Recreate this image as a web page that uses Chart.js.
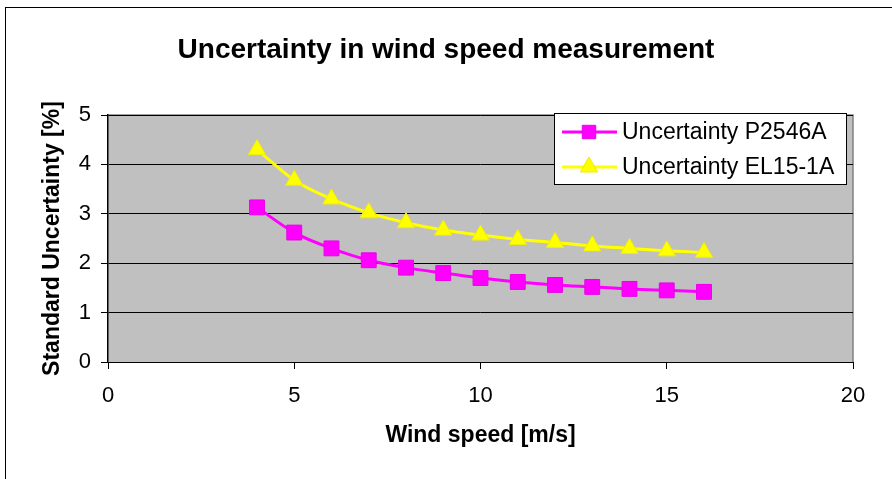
<!DOCTYPE html>
<html>
<head>
<meta charset="utf-8">
<script src="https://cdn.jsdelivr.net/npm/chart.js@4/dist/chart.umd.min.js"></script>
<style>
  html, body { margin: 0; padding: 0; background: #ffffff; }
  #wrap { position: relative; width: 892px; height: 479px; overflow: hidden; }
  #frame { position: absolute; left: 5px; top: 7px; width: 1000px; height: 1000px; border-left: 1px solid #000; border-top: 1px solid #000; box-sizing: border-box; }
  canvas { position: absolute; left: 0; top: 0; }
</style>
</head>
<body>
<div id="wrap">
  <div id="frame"></div>
  <canvas id="c" width="892" height="479"></canvas>
</div>
<script>
const windSpeed = [4, 5, 6, 7, 8, 9, 10, 11, 12, 13, 14, 15, 16];
const uncP2546A = [3.13, 2.62, 2.30, 2.06, 1.91, 1.80, 1.70, 1.62, 1.56, 1.52, 1.48, 1.45, 1.42];
const uncEL151A = [4.30, 3.68, 3.30, 3.02, 2.82, 2.67, 2.57, 2.48, 2.42, 2.35, 2.30, 2.25, 2.22];
const xTicks = [0, 5, 10, 15, 20];
const yTicks = [0, 1, 2, 3, 4, 5];
const seriesNames = ['Uncertainty P2546A', 'Uncertainty EL15-1A'];
const titleText = 'Uncertainty in wind speed measurement';
const xTitle = 'Wind speed [m/s]';
const yTitle = 'Standard Uncertainty [%]';

const FONT = "'Liberation Sans', Arial, sans-serif";

const toPts = (xs, ys) => xs.map((x, i) => ({ x: x, y: ys[i] }));

const plotBg = {
  id: 'plotBg',
  beforeDraw(chart) {
    const a = chart.chartArea, ctx = chart.ctx;
    ctx.save();
    ctx.fillStyle = '#C0C0C0';
    ctx.fillRect(a.left, a.top, a.right - a.left, a.bottom - a.top);
    ctx.strokeStyle = '#808080';
    ctx.lineWidth = 1.5;
    ctx.beginPath();
    ctx.moveTo(a.left, a.top);
    ctx.lineTo(a.right, a.top);
    ctx.lineTo(a.right, a.bottom);
    ctx.stroke();
    ctx.restore();
  }
};

const boxLegend = {
  id: 'boxLegend',
  afterDraw(chart) {
    const ctx = chart.ctx;
    const x0 = 554, y0 = 113, w = 292, h = 71;
    ctx.save();
    ctx.fillStyle = '#ffffff';
    ctx.fillRect(x0, y0, w, h);
    ctx.strokeStyle = '#000000';
    ctx.lineWidth = 1;
    ctx.strokeRect(x0 + 0.5, y0 + 0.5, w, h);
    const rows = [132, 167];
    chart.data.datasets.forEach((ds, i) => {
      const y = rows[i];
      ctx.strokeStyle = ds.borderColor;
      ctx.lineWidth = 3;
      ctx.beginPath();
      ctx.moveTo(562, y);
      ctx.lineTo(617, y);
      ctx.stroke();
      ctx.fillStyle = ds.pointBackgroundColor;
      ctx.strokeStyle = ds.pointBorderColor;
      ctx.lineWidth = 1;
      Chart.helpers.drawPoint(ctx, { pointStyle: ds.pointStyle, radius: ds.legendRadius, borderWidth: 1 }, 589, y);
      ctx.fillStyle = '#000000';
      ctx.font = '23px ' + FONT;
      ctx.textBaseline = 'middle';
      ctx.textAlign = 'left';
      ctx.fillText(ds.label, 622, y + 1);
    });
    ctx.restore();
  }
};

new Chart(document.getElementById('c'), {
  type: 'scatter',
  data: {
    datasets: [
      {
        label: seriesNames[0],
        data: toPts(windSpeed, uncP2546A),
        showLine: true,
        borderColor: '#FF00FF',
        backgroundColor: '#FF00FF',
        pointBackgroundColor: '#FF00FF',
        pointBorderColor: '#E800E8',
        borderWidth: 3,
        pointStyle: 'rect',
        pointRadius: 10.5,
        legendRadius: 9.5,
        pointBorderWidth: 1,
        cubicInterpolationMode: 'monotone'
      },
      {
        label: seriesNames[1],
        data: toPts(windSpeed, uncEL151A),
        showLine: true,
        borderColor: '#FFFF00',
        backgroundColor: '#FFFF00',
        pointBackgroundColor: '#FFFF00',
        pointBorderColor: '#EEEE00',
        borderWidth: 3,
        pointStyle: 'triangle',
        pointRadius: 10,
        legendRadius: 10,
        pointBorderWidth: 1,
        cubicInterpolationMode: 'monotone'
      }
    ]
  },
  options: {
    responsive: false,
    animation: false,
    devicePixelRatio: 1,
    layout: { padding: { left: 0, right: 0, top: 0, bottom: 0 } },
    plugins: {
      legend: { display: false },
      tooltip: { enabled: false },
      title: {
        display: true,
        text: titleText,
        color: '#000000',
        font: { family: FONT, size: 28, weight: 'bold' },
        padding: { top: 33, bottom: 48.4 }
      }
    },
    scales: {
      x: {
        type: 'linear',
        min: 0, max: 20,
        afterFit(s) { s.height = 117; },
        afterBuildTicks(s) { s.ticks = xTicks.map(v => ({ value: v })); },
        grid: { drawOnChartArea: false, drawTicks: true, tickLength: 7, color: '#000000', tickColor: '#000000' },
        border: { display: true, color: '#000000', width: 1 },
        ticks: { color: '#000000', font: { family: FONT, size: 22 }, padding: 14 },
        title: { display: true, text: xTitle, color: '#000000', font: { family: FONT, size: 23, weight: 'bold' }, padding: { top: 0, bottom: 30 } }
      },
      y: {
        type: 'linear',
        position: 'left',
        min: 0, max: 5,
        afterFit(s) { s.width = 108; },
        afterBuildTicks(s) { s.ticks = yTicks.map(v => ({ value: v })); },
        grid: { drawOnChartArea: true, drawTicks: true, tickLength: 7, color: '#000000', tickColor: '#000000', lineWidth: 1 },
        border: { display: true, color: '#000000', width: 1.5 },
        ticks: { color: '#000000', font: { family: FONT, size: 22 }, padding: 10 },
        title: { display: true, text: yTitle, color: '#000000', font: { family: FONT, size: 23, weight: 'bold' }, padding: { top: 39, bottom: 0 } }
      },
      yRightSpace: {
        type: 'linear',
        position: 'right',
        min: 0, max: 5,
        afterFit(s) { s.width = 39; },
        grid: { display: false, drawOnChartArea: false },
        border: { display: false },
        ticks: { display: false }
      }
    }
  },
  plugins: [plotBg, boxLegend]
});
</script>
</body>
</html>
